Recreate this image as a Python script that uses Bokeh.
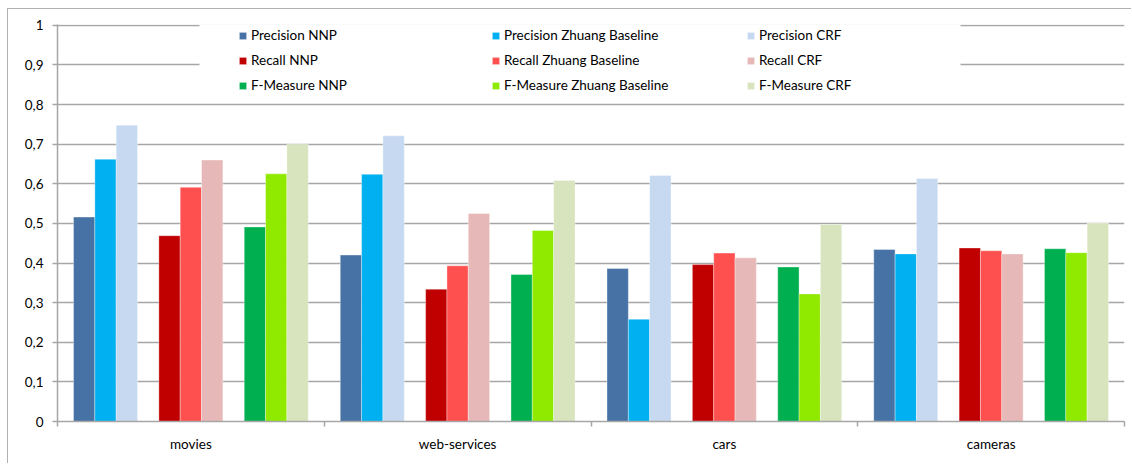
from bokeh.plotting import figure
from bokeh.models import (ColumnDataSource, FixedTicker, Legend, LegendItem,
                          BoxAnnotation, Range1d)
from bokeh.embed import file_html
from bokeh.resources import INLINE

# ---------------- data ----------------
categories = ["movies", "web-services", "cars", "cameras"]

precision_nnp    = [0.516, 0.420, 0.386, 0.434]
precision_zhuang = [0.662, 0.624, 0.258, 0.423]
precision_crf    = [0.748, 0.721, 0.621, 0.613]
recall_nnp       = [0.469, 0.334, 0.396, 0.438]
recall_zhuang    = [0.591, 0.393, 0.425, 0.431]
recall_crf       = [0.660, 0.525, 0.413, 0.423]
fmeasure_nnp     = [0.491, 0.371, 0.390, 0.436]
fmeasure_zhuang  = [0.625, 0.482, 0.322, 0.426]
fmeasure_crf     = [0.700, 0.608, 0.497, 0.501]

series_names = ["Precision NNP", "Precision Zhuang Baseline", "Precision CRF",
                "Recall NNP", "Recall Zhuang Baseline", "Recall CRF",
                "F-Measure NNP", "F-Measure Zhuang Baseline", "F-Measure CRF"]
series_values = [precision_nnp, precision_zhuang, precision_crf,
                 recall_nnp, recall_zhuang, recall_crf,
                 fmeasure_nnp, fmeasure_zhuang, fmeasure_crf]
series_colors = ["#4672A6", "#00B0F0", "#C6D9F1",
                 "#C00000", "#FF5050", "#E6B9B8",
                 "#00B050", "#8FEA00", "#D7E4BD"]

y_ticks = [0, 0.1, 0.2, 0.3, 0.4, 0.5, 0.6, 0.7, 0.8, 0.9, 1]
y_tick_labels = ["0", "0,1", "0,2", "0,3", "0,4", "0,5", "0,6", "0,7", "0,8", "0,9", "1"]

# ---------------- layout constants ----------------
FONT = "Lato"
FS = "13.5px"
n_groups = len(categories)
bar_w = 1 / 12.5          # 9 bars + 2 gaps + 2 half-margins per group
edge = 0.75               # margin (in bar widths) at each group edge
cluster_step = 4          # 3 bars + 1 gap

p = figure(width=1124, height=455, output_backend="svg", toolbar_location=None,
           x_range=Range1d(0, n_groups), y_range=Range1d(0, 1.002),
           min_border_left=49, min_border_right=8, min_border_top=15,
           min_border_bottom=43, margin=(8, 0, 0, 7))
p.styles = {"border-top": "1px solid #B0B0B0", "border-left": "1px solid #B0B0B0"}
p.outline_line_color = None
p.background_fill_color = "white"
p.border_fill_color = "white"

renderers = []
for i, (name, vals, col) in enumerate(zip(series_names, series_values, series_colors)):
    cluster, sysidx = divmod(i, 3)
    off = (edge + cluster * cluster_step + sysidx + 0.5) * bar_w
    xs = [g + off for g in range(n_groups)]
    src = ColumnDataSource(dict(x=xs, top=vals, cat=categories))
    r = p.vbar(x="x", top="top", width=bar_w, bottom=0, source=src,
               fill_color=col, line_color="white", line_alpha=0.35, line_width=1)
    renderers.append(r)

# ---------------- axes ----------------
xa = p.xaxis[0]
xa.ticker = FixedTicker(ticks=[g + 0.5 for g in range(n_groups)],
                        minor_ticks=list(range(n_groups + 1)))
xa.major_label_overrides = {g + 0.5: c for g, c in enumerate(categories)}
xa.major_tick_out = 0
xa.major_tick_in = 0
xa.major_tick_line_color = None
xa.minor_tick_out = 5
xa.minor_tick_in = 0
xa.minor_tick_line_color = "#A6A6A6"
xa.minor_tick_line_width = 1.5
xa.axis_line_color = "#A6A6A6"
xa.axis_line_width = 1.5
xa.major_label_standoff = 9
xa.major_label_text_font = FONT
xa.major_label_text_font_size = FS
xa.major_label_text_color = "#000000"

ya = p.yaxis[0]
ya.ticker = FixedTicker(ticks=y_ticks)
ya.major_label_overrides = dict(zip(y_ticks, y_tick_labels))
ya.major_tick_out = 5
ya.major_tick_in = 0
ya.major_tick_line_color = "#A6A6A6"
ya.major_tick_line_width = 1.5
ya.minor_tick_line_color = None
ya.axis_line_color = "#A6A6A6"
ya.axis_line_width = 1.5
ya.major_label_standoff = 9
ya.major_label_text_font = FONT
ya.major_label_text_font_size = FS
ya.major_label_text_color = "#000000"

p.xgrid.grid_line_color = None
p.ygrid.grid_line_color = "#A6A6A6"
p.ygrid.grid_line_width = 1.5

# ---------------- legend (3 columns) ----------------
legend_bg = BoxAnnotation(left=190, right=951, top=0, bottom=88,
                          left_units="canvas", right_units="canvas",
                          top_units="canvas", bottom_units="canvas",
                          fill_color="white", fill_alpha=1.0, line_color=None)
p.add_layout(legend_bg)

col_x = [181, 434, 689]
for c in range(3):
    items = [LegendItem(label=series_names[c + 3 * k], renderers=[renderers[c + 3 * k]])
             for k in range(3)]
    lg = Legend(items=items, location=(col_x[c], 328), orientation="vertical",
                glyph_width=9, glyph_height=9, label_standoff=4,
                label_height=9, label_width=10, spacing=9, padding=0, margin=0,
                background_fill_alpha=0, border_line_color=None,
                label_text_font=FONT, label_text_font_size=FS,
                label_text_color="#000000")
    p.add_layout(lg, "center")

open("out.html", "w").write(file_html(p, INLINE))
